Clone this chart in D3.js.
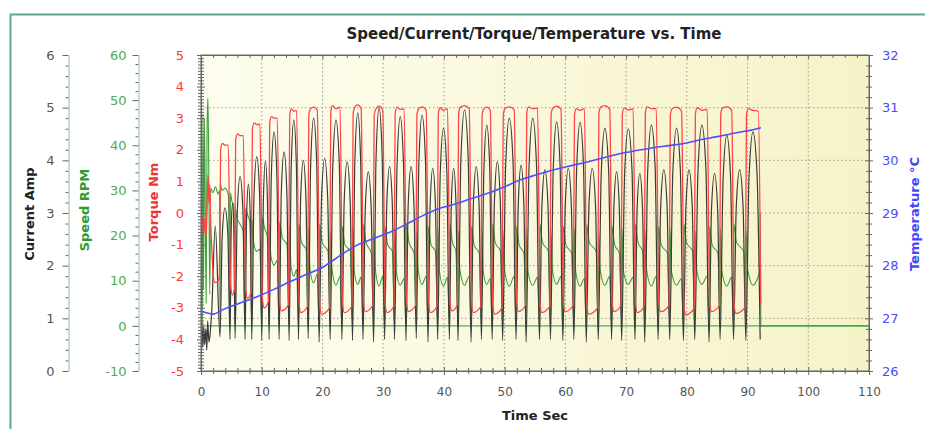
<!DOCTYPE html>
<html>
<head>
<meta charset="utf-8">
<script src="https://cdn.jsdelivr.net/npm/d3@7"></script>
<style>
  body { margin: 0; background: #fff; }
  text { font-family: "DejaVu Sans", Verdana, sans-serif; }
</style>
</head>
<body>
<div id="chart"></div>
<script>
// [time s, value] pairs
const torque = [
  [0,-0.4],[0.2,-0.1],[0.4,-0.7],[0.6,-0.2],[0.8,-0.8],[1.0,0.2],[1.15,1.2],[1.3,0.3],[1.45,0.9],[1.6,-0.3],[1.8,-1.2],[2.0,-2.0],[2.3,-2.2],[2.8,-2.15],
  [3.03,-2.0],[3.23,2.0],[3.53,2.2],[3.95,2.15],[4.48,2.15],[4.88,-2.3],[5.18,-2.6],
  [5.51,-2.4],[5.71,2.3],[6.01,2.5],[6.45,2.45],[6.96,2.45],[7.36,-2.4],[7.66,-2.7],
  [8.26,-2.5],[8.46,2.65],[8.76,2.85],[9.2,2.8],[9.71,2.8],[10.11,-2.7],[10.41,-3.0],
  [11.11,-2.8],[11.31,2.85],[11.61,3.05],[12.05,3.0],[12.56,3.0],[12.96,-2.8],[13.26,-3.1],
  [14.41,-2.9],[14.61,3.1],[14.91,3.3],[15.3,3.22],[15.75,3.25],[16.15,-2.85],[16.45,-3.15],
  [17.55,-2.95],[17.75,3.1],[18.05,3.3],[18.55,3.35],[19.15,3.25],[19.55,-2.9],[19.85,-3.2],
  [21.17,-3.0],[21.37,3.2],[21.67,3.4],[22.2,3.3],[22.9,3.35],[23.3,-2.85],[23.6,-3.15],
  [24.85,-2.95],[25.05,3.16],[25.35,3.36],[25.8,3.42],[26.37,3.3],[26.77,-2.82],[27.07,-3.12],
  [28.32,-2.92],[28.52,3.1],[28.82,3.3],[29.3,3.38],[29.93,3.25],[30.33,-2.85],[30.63,-3.15],
  [31.77,-2.95],[31.97,3.15],[32.27,3.35],[32.8,3.28],[33.45,3.3],[33.85,-2.82],[34.15,-3.12],
  [35.35,-2.92],[35.55,3.1],[35.85,3.3],[36.4,3.36],[37.08,3.25],[37.48,-2.85],[37.78,-3.15],
  [38.87,-2.95],[39.07,3.13],[39.37,3.33],[39.9,3.25],[40.6,3.3],[41.0,-2.8],[41.3,-3.1],
  [42.22,-2.9],[42.42,3.15],[42.72,3.35],[43.4,3.4],[44.17,3.3],[44.57,-2.85],[44.87,-3.15],
  [46.08,-2.95],[46.28,3.1],[46.58,3.3],[47.05,3.35],[47.64,3.25],[48.04,-2.9],[48.34,-3.2],
  [49.57,-3.0],[49.77,3.11],[50.07,3.31],[50.8,3.36],[51.58,3.26],[51.98,-2.82],[52.28,-3.12],
  [53.44,-2.92],[53.64,3.16],[53.94,3.36],[54.6,3.3],[55.43,3.32],[55.83,-2.85],[56.13,-3.15],
  [57.45,-2.95],[57.65,3.12],[57.95,3.32],[58.6,3.38],[59.28,3.28],[59.68,-2.82],[59.98,-3.12],
  [61.3,-2.92],[61.5,3.1],[61.8,3.3],[62.4,3.25],[63.14,3.3],[63.54,-2.9],[63.84,-3.2],
  [65.32,-3.0],[65.52,3.15],[65.82,3.35],[66.5,3.4],[67.31,3.28],[67.71,-2.82],[68.01,-3.12],
  [69.17,-2.92],[69.37,3.12],[69.67,3.32],[70.4,3.26],[71.16,3.3],[71.56,-2.85],[71.86,-3.15],
  [72.97,-2.95],[73.17,3.16],[73.47,3.36],[74.2,3.3],[74.97,3.3],[75.37,-2.82],[75.67,-3.12],
  [77.08,-2.92],[77.28,3.1],[77.58,3.3],[78.3,3.35],[79.14,3.22],[79.54,-2.92],[79.84,-3.22],
  [81.21,-3.02],[81.41,3.13],[81.71,3.33],[82.5,3.25],[83.36,3.28],[83.76,-2.82],[84.06,-3.12],
  [85.38,-2.92],[85.58,3.12],[85.88,3.32],[86.6,3.36],[87.39,3.25],[87.79,-2.88],[88.09,-3.18],
  [89.62,-2.98],[89.82,3.1],[90.12,3.3],[90.9,3.25],[91.78,3.22],[92.18,-2.9]
];

const current = [
  [0,0.6],[0.15,0.9],[0.3,0.45],[0.45,0.85],[0.6,0.5],[0.8,0.8],[0.95,0.4],[1.1,0.95],[1.3,0.55],[1.5,0.7],[1.75,1.1],[2.35,2.75],[3.13,0.65],
  [3.49,2.55],[3.95,3.1],[4.42,2.6],[4.78,0.6],[4.96,2.62],[5.2,3.19],[5.43,2.6],[5.61,0.62],
  [5.97,3.01],[6.43,3.69],[6.9,3.05],[7.26,0.6],[7.5,2.9],[7.81,3.55],[8.12,2.9],[8.36,0.6],
  [8.72,3.31],[9.18,4.07],[9.65,3.35],[10.01,0.58],[10.27,3.24],[10.61,3.98],[10.95,3.2],[11.21,0.6],
  [11.57,3.67],[12.03,4.54],[12.5,3.7],[12.86,0.6],[13.22,3.38],[13.68,4.16],[14.15,3.35],[14.51,0.58],
  [14.85,3.85],[15.28,4.77],[15.71,3.9],[16.05,0.6],[16.4,3.25],[16.85,4.0],[17.3,3.2],[17.65,0.62],
  [18.05,3.88],[18.55,4.8],[19.05,3.95],[19.45,0.55],[19.85,3.28],[20.36,4.04],[20.87,3.25],[21.27,0.6],
  [21.69,3.85],[22.23,4.77],[22.78,3.9],[23.2,0.6],[23.58,3.23],[24.07,3.97],[24.57,3.2],[24.95,0.58],
  [25.33,3.95],[25.81,4.9],[26.29,4.0],[26.67,0.6],[27.05,3.08],[27.55,3.78],[28.04,3.05],[28.42,0.55],
  [28.82,4.03],[29.32,5.0],[29.83,4.1],[30.23,0.6],[30.59,3.16],[31.05,3.88],[31.51,3.15],[31.87,0.6],
  [32.28,3.9],[32.81,4.83],[33.34,3.95],[33.75,0.58],[34.12,3.16],[34.6,3.88],[35.08,3.12],[35.45,0.62],
  [35.87,3.92],[36.41,4.86],[36.96,4.0],[37.38,0.55],[37.73,3.14],[38.17,3.85],[38.62,3.1],[38.97,0.6],
  [39.39,3.73],[39.93,4.61],[40.48,3.8],[40.9,0.6],[41.21,3.14],[41.61,3.85],[42.01,3.1],[42.32,0.58],
  [42.79,4.0],[43.4,4.96],[44.0,4.05],[44.47,0.55],[44.85,3.16],[45.32,3.88],[45.8,3.12],[46.18,0.6],
  [46.57,3.77],[47.06,4.67],[47.55,3.85],[47.94,0.6],[48.32,3.23],[48.8,3.97],[49.29,3.2],[49.67,0.58],
  [50.16,3.88],[50.77,4.8],[51.39,3.95],[51.88,0.6],[52.25,3.18],[52.71,3.91],[53.17,3.15],[53.54,0.55],
  [54.02,3.88],[54.63,4.8],[55.25,3.9],[55.73,0.6],[56.13,3.11],[56.64,3.82],[57.15,3.1],[57.55,0.6],
  [58.0,3.82],[58.56,4.73],[59.13,3.9],[59.58,0.58],[59.98,3.14],[60.49,3.85],[61.0,3.1],[61.4,0.6],
  [61.85,3.81],[62.42,4.72],[62.99,3.88],[63.44,0.55],[63.88,3.14],[64.43,3.85],[64.98,3.1],[65.42,0.6],
  [65.9,3.73],[66.51,4.61],[67.13,3.8],[67.61,0.6],[67.98,3.08],[68.44,3.78],[68.9,3.05],[69.27,0.58],
  [69.75,3.72],[70.36,4.6],[70.98,3.8],[71.46,0.6],[71.81,3.06],[72.26,3.75],[72.72,3.05],[73.07,0.55],
  [73.55,3.77],[74.17,4.67],[74.79,3.85],[75.27,0.6],[75.69,3.11],[76.22,3.82],[76.76,3.1],[77.18,0.6],
  [77.68,3.73],[78.31,4.61],[78.94,3.8],[79.44,0.58],[79.85,3.11],[80.37,3.82],[80.9,3.1],[81.31,0.6],
  [81.83,3.77],[82.48,4.67],[83.14,3.85],[83.66,0.55],[84.06,3.06],[84.57,3.75],[85.08,3.05],[85.48,0.6],
  [85.97,3.63],[86.58,4.48],[87.2,3.7],[87.69,0.6],[88.14,3.11],[88.7,3.82],[89.27,3.1],[89.72,0.58],
  [90.24,3.67],[90.9,4.54],[91.56,3.75],[92.08,0.6]
];

const speed = [
  [0,0.3],[0.2,0.5],[0.32,47],[0.42,8],[0.56,46],[0.7,27],[0.85,5],[1.0,44],[1.15,50.5],[1.3,31],[1.45,7],[1.6,30.5],[1.95,29.5],[2.4,30.8],[2.8,29.2],[3.06,30],[3.13,0],
  [3.19,31.5],[3.45,30],[3.95,30.5],[4.5,29],[4.78,0],[4.84,29.5],[5.1,27.5],[5.4,26.8],[5.61,0],
  [5.67,26],[5.9,24],[6.43,22.5],[6.96,21],[7.26,0],[7.32,26],[7.7,24.5],[8.05,23],[8.36,0],
  [8.42,23.5],[8.66,18.5],[9.18,16.5],[9.71,17],[10.01,0],[10.07,24],[10.5,21.5],[10.9,20],[11.21,0],
  [11.27,22.5],[11.5,15.5],[12.03,13.5],[12.56,14.5],[12.86,0],[12.92,23],[13.4,19.5],[14.16,18],[14.51,0],
  [14.57,22],[14.8,13.5],[15.28,11],[15.75,12.5],[16.05,0],[16.11,22.5],[16.55,18.5],[17.3,17],[17.65,0],
  [17.71,21.5],[17.95,12.5],[18.55,9.5],[19.15,11.5],[19.45,0],[19.51,22.5],[19.95,18.5],[20.92,16.5],[21.27,0],
  [21.33,21],[21.57,12.5],[22.23,9],[22.9,11],[23.2,0],[23.26,22],[23.7,18],[24.6,16.5],[24.95,0],
  [25.01,21.5],[25.25,12],[25.81,9.2],[26.37,10.8],[26.67,0],[26.73,22.5],[27.17,18.5],[28.07,16],[28.42,0],
  [28.48,21],[28.72,12.5],[29.32,8.8],[29.93,11],[30.23,0],[30.29,22],[30.73,18],[31.52,16.5],[31.87,0],
  [31.93,21.5],[32.17,12],[32.81,9],[33.45,10.5],[33.75,0],[33.81,22.5],[34.25,18.5],[35.1,16],[35.45,0],
  [35.51,21],[35.75,12.5],[36.41,9.2],[37.08,11],[37.38,0],[37.44,22],[37.88,18],[38.62,16.5],[38.97,0],
  [39.03,21.5],[39.27,12],[39.93,8.8],[40.6,10.8],[40.9,0],[40.96,22.5],[41.4,18.5],[41.97,16.5],[42.32,0],
  [42.38,21],[42.62,12.5],[43.4,9],[44.17,11],[44.47,0],[44.53,22],[44.97,18],[45.83,16],[46.18,0],
  [46.24,21.5],[46.48,12],[47.06,9.2],[47.64,10.5],[47.94,0],[48.0,22.5],[48.44,18.5],[49.32,16.5],[49.67,0],
  [49.73,21],[49.97,12.5],[50.77,8.8],[51.58,11],[51.88,0],[51.94,22],[52.38,18],[53.19,16],[53.54,0],
  [53.6,21.5],[53.84,12],[54.63,9],[55.43,10.8],[55.73,0],[55.79,22.5],[56.23,18.5],[57.2,16.5],[57.55,0],
  [57.61,21],[57.85,12.5],[58.56,9.2],[59.28,11],[59.58,0],[59.64,22],[60.08,18],[61.05,16],[61.4,0],
  [61.46,21.5],[61.7,12],[62.42,8.8],[63.14,10.5],[63.44,0],[63.5,22.5],[63.94,18.5],[65.07,16.5],[65.42,0],
  [65.48,21],[65.72,12.5],[66.51,9],[67.31,11],[67.61,0],[67.67,22],[68.11,18],[68.92,16],[69.27,0],
  [69.33,21.5],[69.57,12],[70.36,9.2],[71.16,10.8],[71.46,0],[71.52,22.5],[71.96,18.5],[72.72,16.5],[73.07,0],
  [73.13,21],[73.37,12.5],[74.17,8.8],[74.97,11],[75.27,0],[75.33,22],[75.77,18],[76.83,16],[77.18,0],
  [77.24,21.5],[77.48,12],[78.31,9],[79.14,10.5],[79.44,0],[79.5,22.5],[79.94,18.5],[80.96,16.5],[81.31,0],
  [81.37,21],[81.61,12.5],[82.48,9.2],[83.36,11],[83.66,0],[83.72,22],[84.16,18],[85.13,16],[85.48,0],
  [85.54,21.5],[85.78,12],[86.58,8.8],[87.39,10.8],[87.69,0],[87.75,22.5],[88.19,18.5],[89.37,16.5],[89.72,0],
  [89.78,21],[90.02,12.5],[90.9,9],[91.78,11],[92.02,12],[92.1,25],[92.18,0],[110,0]
];

const temperature = [
  [0,27.14],[1,27.1],[2,27.08],[3.7,27.17],[6,27.27],[9.2,27.41],[12,27.55],[14.7,27.7],[17.5,27.84],[20.2,27.98],
  [23,28.2],[25.7,28.39],[28.5,28.52],[31.2,28.64],[34,28.8],[36.7,28.96],[39.1,29.08],[41.6,29.16],[44.4,29.27],
  [47.1,29.37],[50,29.5],[52.6,29.63],[55.4,29.73],[58.1,29.82],[61,29.9],[63.6,29.97],[66.3,30.05],[69.1,30.13],
  [72,30.19],[74,30.23],[77,30.28],[79.5,30.32],[82.2,30.39],[85,30.45],[88,30.52],[90,30.56],[92.2,30.62]
];

// tick labels
const timeTicks = [0, 10, 20, 30, 40, 50, 60, 70, 80, 90, 100, 110];
const currentTicks = [0, 1, 2, 3, 4, 5, 6];
const speedTicks = [-10, 0, 10, 20, 30, 40, 50, 60];
const torqueTicks = [-5, -4, -3, -2, -1, 0, 1, 2, 3, 4, 5];
const tempTicks = [26, 27, 28, 29, 30, 31, 32];

const width = 925, height = 429;
const plot = {left: 201, right: 869, top: 55, bottom: 371};

const svg = d3.select("#chart")
    .append("svg")
    .attr("width", width)
    .attr("height", height);

// scales
const x = d3.scaleLinear().domain([0, 110]).range([plot.left, plot.right]);
const yCur = d3.scaleLinear().domain([0, 6]).range([plot.bottom, plot.top]);
const ySpd = d3.scaleLinear().domain([-10, 60]).range([plot.bottom, plot.top]);
const yTrq = d3.scaleLinear().domain([-5, 5]).range([plot.bottom, plot.top]);
const yTmp = d3.scaleLinear().domain([26, 32]).range([plot.bottom, plot.top]);

function minorTicks(major, parts) {
    const out = [];
    for (let i = 0; i < major.length - 1; i++) {
        const step = (major[i + 1] - major[i]) / parts;
        for (let k = 1; k < parts; k++) out.push(major[i] + k * step);
    }
    return out;
}

// outer frame
svg.append("rect")
    .attr("x", 10.5).attr("y", 14.5)
    .attr("width", 940).attr("height", 440)
    .attr("fill", "none")
    .attr("stroke", "#5fa698")
    .attr("stroke-width", 2);

const defs = svg.append("defs");

// plot background
const grad = defs.append("linearGradient")
    .attr("id", "bg").attr("x1", "0").attr("x2", "1").attr("y1", "0").attr("y2", "0");
grad.append("stop").attr("offset", "0%").attr("stop-color", "#fdfdee");
grad.append("stop").attr("offset", "100%").attr("stop-color", "#f6f2c8");

defs.append("clipPath").attr("id", "clip")
    .append("rect")
    .attr("x", plot.left).attr("y", plot.top)
    .attr("width", plot.right - plot.left).attr("height", plot.bottom - plot.top);

// soft edge, the recording looks slightly blurred
defs.append("filter").attr("id", "soft")
    .append("feGaussianBlur").attr("stdDeviation", 0.35);

svg.append("rect")
    .attr("x", plot.left).attr("y", plot.top)
    .attr("width", plot.right - plot.left).attr("height", plot.bottom - plot.top)
    .attr("fill", "url(#bg)");

// dotted grid
const grid = svg.append("g")
    .attr("stroke", "#9c9c9c")
    .attr("stroke-dasharray", "1.5,2.5");
grid.selectAll(".vg")
    .data(timeTicks.slice(1, -1))
    .enter().append("line")
    .attr("x1", d => x(d)).attr("x2", d => x(d))
    .attr("y1", plot.top).attr("y2", plot.bottom);
grid.selectAll(".hg")
    .data(tempTicks.slice(1, -1))
    .enter().append("line")
    .attr("x1", plot.left).attr("x2", plot.right)
    .attr("y1", d => yTmp(d)).attr("y2", d => yTmp(d));

// series
const series = svg.append("g")
    .attr("clip-path", "url(#clip)")
    .append("g")
    .attr("filter", "url(#soft)");

series.append("line")
    .attr("x1", plot.left).attr("x2", plot.right)
    .attr("y1", ySpd(0)).attr("y2", ySpd(0))
    .attr("stroke", "#4fae4f").attr("stroke-width", 1.3);

function drawLine(data, yScale, color, w) {
    series.append("path")
        .datum(data)
        .attr("fill", "none")
        .attr("stroke", color)
        .attr("stroke-width", w)
        .attr("stroke-linejoin", "round")
        .attr("d", d3.line()
            .x(d => x(d[0]))
            .y(d => yScale(d[1]))
            .curve(d3.curveMonotoneX));
}

drawLine(speed, ySpd, "#40a040", 1.1);
drawLine(current, yCur, "#3a3a3a", 1.2);
drawLine(torque, yTrq, "#ff4444", 1.3);
drawLine(temperature, yTmp, "#5050ff", 1.6);

// plot frame
svg.append("rect")
    .attr("x", plot.left).attr("y", plot.top)
    .attr("width", plot.right - plot.left).attr("height", plot.bottom - plot.top)
    .attr("fill", "none")
    .attr("stroke", "#6a6a6a");

// axis helper: minor ticks, major ticks, labels optional
function addAxis(axisFn, scale, tx, ty, major, minor, big, small, pad, labelColor, lineColor, fontSize) {
    const g = svg.append("g").attr("transform", "translate(" + tx + "," + ty + ")");
    g.append("g")
        .call(axisFn(scale).tickValues(minor).tickSize(small).tickFormat(""))
        .call(s => s.select(".domain").remove());
    g.append("g")
        .call(axisFn(scale).tickValues(major).tickSize(big).tickPadding(pad).tickSizeOuter(0)
            .tickFormat(labelColor ? (d => String(d)) : ""));
    g.selectAll(".tick line").attr("stroke", "#666");
    g.selectAll(".domain").attr("stroke", lineColor);
    g.selectAll("text").attr("fill", labelColor).style("font-size", fontSize + "px");
    return g;
}

// left axes
addAxis(d3.axisLeft, yCur, 68.5, 0, currentTicks, minorTicks(currentTicks, 5), 6, 3, 8, "#555", "#8fc08f", 13);
addAxis(d3.axisLeft, ySpd, 138.5, 0, speedTicks, minorTicks(speedTicks, 5), 6, 3, 6, "#4cae4c", "#8fc08f", 13);
addAxis(d3.axisLeft, yTrq, plot.left, 0, torqueTicks, minorTicks(torqueTicks, 10), 4, 3, 13, "#ff3a3a", "#666", 13);
addAxis(d3.axisRight, yTrq, plot.left, 0, torqueTicks, minorTicks(torqueTicks, 10), 4, 3, 0, null, "#666", 13);

// right axis
addAxis(d3.axisRight, yTmp, plot.right, 0, tempTicks, minorTicks(tempTicks, 5), 4, 3, 9, "#4b4bff", "#666", 13);
addAxis(d3.axisLeft, yTmp, plot.right, 0, tempTicks, minorTicks(tempTicks, 5), 4, 3, 0, null, "#666", 13);

// bottom and top axes
addAxis(d3.axisBottom, x, 0, plot.bottom, timeTicks, minorTicks(timeTicks, 5), 4, 3, 12, "#555", "#666", 12);
addAxis(d3.axisTop, x, 0, plot.bottom, timeTicks, minorTicks(timeTicks, 5), 4, 3, 0, null, "#666", 12);
addAxis(d3.axisBottom, x, 0, plot.top, timeTicks, minorTicks(timeTicks, 5), 4, 3, 0, null, "#666", 12);

// titles
svg.append("text")
    .attr("x", 534).attr("y", 39)
    .attr("text-anchor", "middle")
    .style("font-size", "15px").style("font-weight", "bold")
    .attr("fill", "#222")
    .text("Speed/Current/Torque/Temperature vs. Time");

svg.append("text")
    .attr("x", 535).attr("y", 420)
    .attr("text-anchor", "middle")
    .style("font-size", "13px").style("font-weight", "bold")
    .attr("fill", "#222")
    .text("Time Sec");

function yTitle(tx, ty, label, color) {
    svg.append("text")
        .attr("transform", "translate(" + tx + "," + ty + ")rotate(-90)")
        .attr("text-anchor", "middle")
        .style("font-size", "13px").style("font-weight", "bold")
        .attr("fill", color)
        .text(label);
}

yTitle(34, 214, "Current Amp", "#222");
yTitle(89, 210, "Speed RPM", "#2f9a2f");
yTitle(158, 202, "Torque Nm", "#f03535");
yTitle(919, 214, "Temperature °C", "#4545ff");
</script>
</body>
</html>
